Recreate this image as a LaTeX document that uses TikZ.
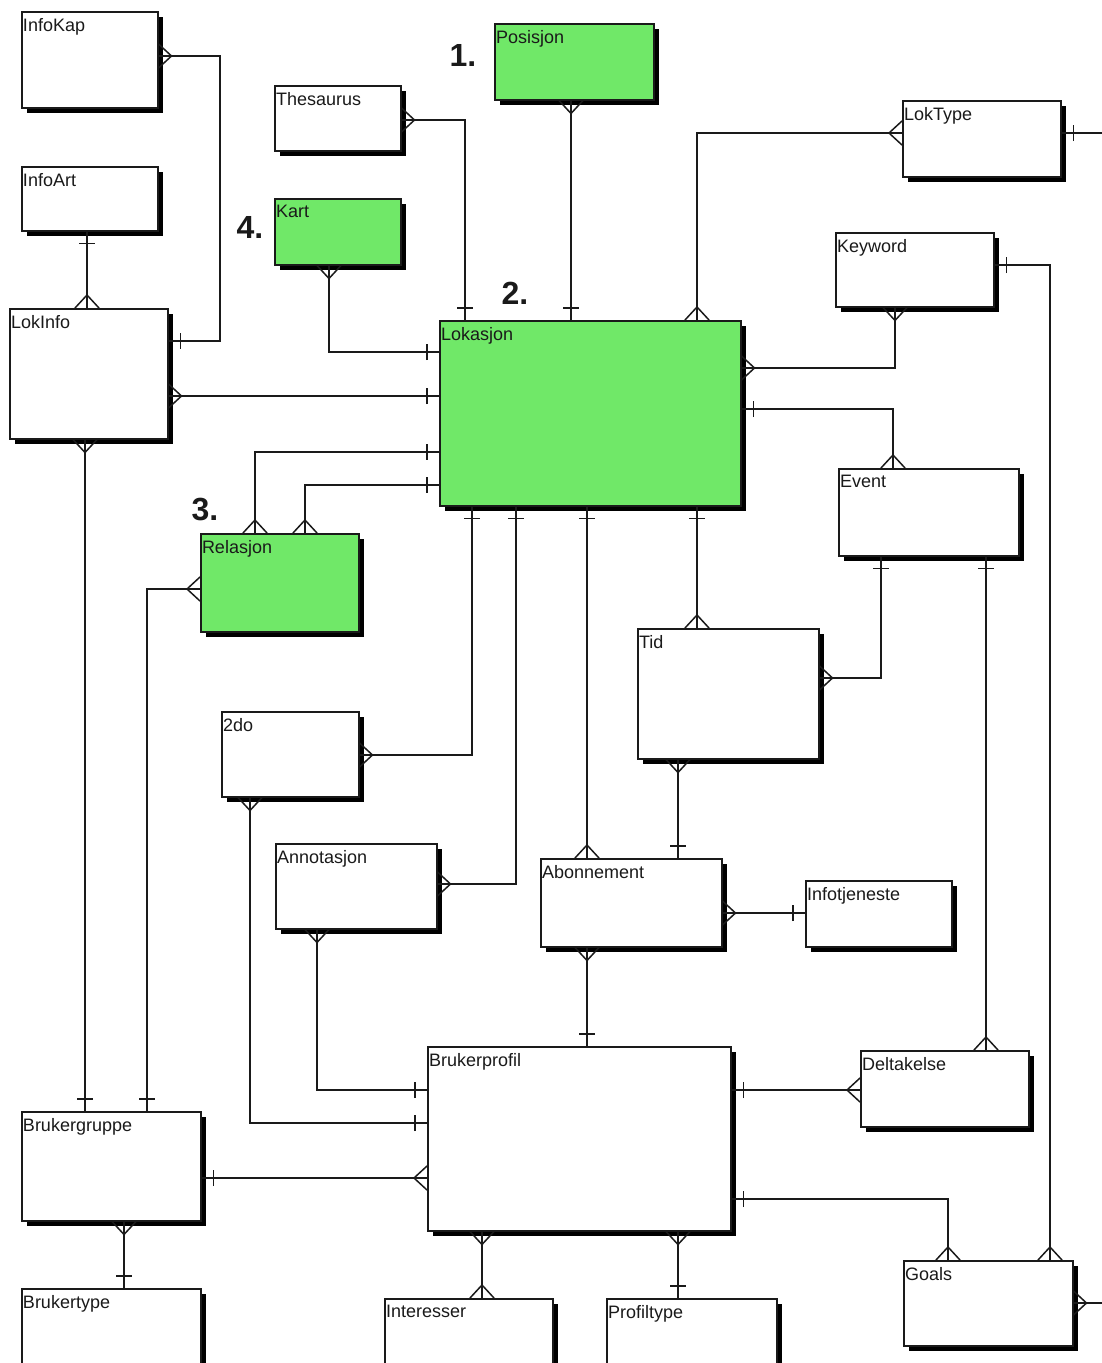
\documentclass[tikz,border=0pt]{standalone}
\usepackage{fontspec}
\setmainfont{Liberation Sans}
\usepackage{tikz}
\usetikzlibrary{shadows,decorations.markings}
\definecolor{ergreen}{HTML}{70E868}
\definecolor{erink}{HTML}{1A1A1A}

\tikzset{
  entity/.style={draw=erink,line width=1.5pt,fill=white,anchor=north west,
    inner sep=0pt,drop shadow={shadow xshift=5pt,shadow yshift=-5pt,
    fill=black,opacity=1}},
  entitytext/.style={anchor=north west,inner xsep=2pt,inner ysep=7pt,
    outer sep=0pt,text=erink,font=\fontsize{18}{20}\selectfont},
  stepno/.style={text=erink,font=\bfseries\fontsize{32}{36}\selectfont},
  link/.style={draw=erink,line width=1.5pt},
  one start/.style={postaction={decorate,decoration={markings,
    mark=at position 12pt with {\draw[link] (0,-8pt) -- (0,8pt);}}}},
  one end/.style={postaction={decorate,decoration={markings,
    mark=at position -12pt with {\draw[link] (0,-8pt) -- (0,8pt);}}}},
  many start/.style={postaction={decorate,decoration={markings,
    mark=at position 13pt with {\draw[link] (-13pt,12pt) -- (0,0) -- (-13pt,-12pt);}}}},
  many end/.style={postaction={decorate,decoration={markings,
    mark=at position -13pt with {\draw[link] (13pt,12pt) -- (0,0) -- (13pt,-12pt);}}}}
}

\begin{document}
\begin{tikzpicture}[x=1pt,y=-1pt]
  \useasboundingbox (0,0) rectangle (1102,1363);

  % Entities, top row
  \node[entity,minimum width=136,minimum height=96,
    label={[entitytext]north west:InfoKap}] (InfoKap) at (21,11) {};
  \node[entity,minimum width=136,minimum height=64,
    label={[entitytext]north west:InfoArt}] (InfoArt) at (21,166) {};
  \node[entity,minimum width=126,minimum height=65,
    label={[entitytext]north west:Thesaurus}] (Thesaurus) at (274,85) {};
  \node[entity,fill=ergreen,minimum width=159,minimum height=76,
    label={[entitytext]north west:Posisjon}] (Posisjon) at (494,23) {};
  \node[entity,fill=ergreen,minimum width=126,minimum height=66,
    label={[entitytext]north west:Kart}] (Kart) at (274,198) {};
  \node[entity,minimum width=158,minimum height=76,
    label={[entitytext]north west:LokType}] (LokType) at (902,100) {};
  \node[entity,minimum width=158,minimum height=74,
    label={[entitytext]north west:Keyword}] (Keyword) at (835,232) {};

  % Entities, middle
  \node[entity,minimum width=158,minimum height=130,
    label={[entitytext]north west:LokInfo}] (LokInfo) at (9,308) {};
  \node[entity,fill=ergreen,minimum width=301,minimum height=185,
    label={[entitytext]north west:Lokasjon}] (Lokasjon) at (439,320) {};
  \node[entity,minimum width=180,minimum height=87,
    label={[entitytext]north west:Event}] (Event) at (838,468) {};
  \node[entity,fill=ergreen,minimum width=158,minimum height=98,
    label={[entitytext]north west:Relasjon}] (Relasjon) at (200,533) {};
  \node[entity,minimum width=181,minimum height=130,
    label={[entitytext]north west:Tid}] (Tid) at (637,628) {};
  \node[entity,minimum width=137,minimum height=85,
    label={[entitytext]north west:2do}] (Todo) at (221,711) {};
  \node[entity,minimum width=161,minimum height=85,
    label={[entitytext]north west:Annotasjon}] (Annotasjon) at (275,843) {};
  \node[entity,minimum width=181,minimum height=88,
    label={[entitytext]north west:Abonnement}] (Abonnement) at (540,858) {};
  \node[entity,minimum width=146,minimum height=66,
    label={[entitytext]north west:Infotjeneste}] (Infotjeneste) at (805,880) {};

  % Entities, bottom
  \node[entity,minimum width=303,minimum height=184,
    label={[entitytext]north west:Brukerprofil}] (Brukerprofil) at (427,1046) {};
  \node[entity,minimum width=168,minimum height=76,
    label={[entitytext]north west:Deltakelse}] (Deltakelse) at (860,1050) {};
  \node[entity,minimum width=179,minimum height=109,
    label={[entitytext]north west:Brukergruppe}] (Brukergruppe) at (21,1111) {};
  \node[entity,minimum width=179,minimum height=100,
    label={[entitytext]north west:Brukertype}] (Brukertype) at (21,1288) {};
  \node[entity,minimum width=168,minimum height=100,
    label={[entitytext]north west:Interesser}] (Interesser) at (384,1298) {};
  \node[entity,minimum width=170,minimum height=100,
    label={[entitytext]north west:Profiltype}] (Profiltype) at (606,1298) {};
  \node[entity,minimum width=169,minimum height=85,
    label={[entitytext]north west:Goals}] (Goals) at (903,1260) {};

  % Step numbers
  \node[stepno] (stepA) at (463,55) {1.};
  \node[stepno] (stepB) at (515,293) {2.};
  \node[stepno] (stepC) at (205,510) {3.};
  \node[stepno] (stepD) at (250,227) {4.};

  % Loose ends at the right border
  \coordinate (rimA) at (1102,133);
  \coordinate (rimB) at (1102,1303);

  % Relations around Lokasjon
  \draw[link,many start,one end] (InfoKap.east |- 0,56) -| (220,341)
    -- (LokInfo.east |- 0,341);
  \draw[link,one start,many end] (InfoArt.south -| 87,0) -- (LokInfo.north -| 87,0);
  \draw[link,many start,one end] (Thesaurus.east |- 0,120) -| (Lokasjon.north -| 465,0);
  \draw[link,many start,one end] (Posisjon.south -| 571,0) -- (Lokasjon.north -| 571,0);
  \draw[link,many start,many end] (LokType.west |- 0,133) -| (Lokasjon.north -| 697,0);
  \draw[link,one start] (LokType.east |- 0,133) -- (rimA);
  \draw[link,many start,many end] (Keyword.south -| 895,0) |- (Lokasjon.east |- 0,368);
  \draw[link,one start,many end] (Keyword.east |- 0,265) -| (Goals.north -| 1050,0);
  \draw[link,many start,one end] (Kart.south -| 329,0) |- (Lokasjon.west |- 0,352);
  \draw[link,many start,one end] (LokInfo.east |- 0,396) -- (Lokasjon.west |- 0,396);
  \draw[link,one start,many end] (Lokasjon.west |- 0,452) -| (Relasjon.north -| 255,0);
  \draw[link,one start,many end] (Lokasjon.west |- 0,485) -| (Relasjon.north -| 305,0);
  \draw[link,one start,many end] (Lokasjon.east |- 0,409) -| (Event.north -| 893,0);
  \draw[link,one start,many end] (Lokasjon.south -| 472,0) |- (Todo.east |- 0,755);
  \draw[link,one start,many end] (Lokasjon.south -| 516,0) |- (Annotasjon.east |- 0,884);
  \draw[link,one start,many end] (Lokasjon.south -| 587,0) -- (Abonnement.north -| 587,0);
  \draw[link,one start,many end] (Lokasjon.south -| 697,0) -- (Tid.north -| 697,0);

  % Event, Tid and Abonnement
  \draw[link,one start,many end] (Event.south -| 881,0) |- (Tid.east |- 0,678);
  \draw[link,one start,many end] (Event.south -| 986,0) -- (Deltakelse.north -| 986,0);
  \draw[link,many start,one end] (Tid.south -| 678,0) -- (Abonnement.north -| 678,0);
  \draw[link,many start,one end] (Abonnement.east |- 0,913) -- (Infotjeneste.west |- 0,913);
  \draw[link,many start,one end] (Abonnement.south -| 587,0) -- (Brukerprofil.north -| 587,0);

  % Brukergruppe and Brukerprofil
  \draw[link,many start,one end] (Relasjon.west |- 0,589) -| (Brukergruppe.north -| 147,0);
  \draw[link,many start,one end] (LokInfo.south -| 85,0) -- (Brukergruppe.north -| 85,0);
  \draw[link,many start,one end] (Todo.south -| 250,0) |- (Brukerprofil.west |- 0,1123);
  \draw[link,many start,one end] (Annotasjon.south -| 317,0) |- (Brukerprofil.west |- 0,1090);
  \draw[link,one start,many end] (Brukergruppe.east |- 0,1178) -- (Brukerprofil.west |- 0,1178);
  \draw[link,one start,many end] (Brukerprofil.east |- 0,1090) -- (Deltakelse.west |- 0,1090);
  \draw[link,one start,many end] (Brukerprofil.east |- 0,1199) -| (Goals.north -| 948,0);
  \draw[link,many start,many end] (Brukerprofil.south -| 482,0) -- (Interesser.north -| 482,0);
  \draw[link,many start,one end] (Brukerprofil.south -| 678,0) -- (Profiltype.north -| 678,0);
  \draw[link,many start,one end] (Brukergruppe.south -| 124,0) -- (Brukertype.north -| 124,0);
  \draw[link,many start] (Goals.east |- 0,1303) -- (rimB);
\end{tikzpicture}
\end{document}
